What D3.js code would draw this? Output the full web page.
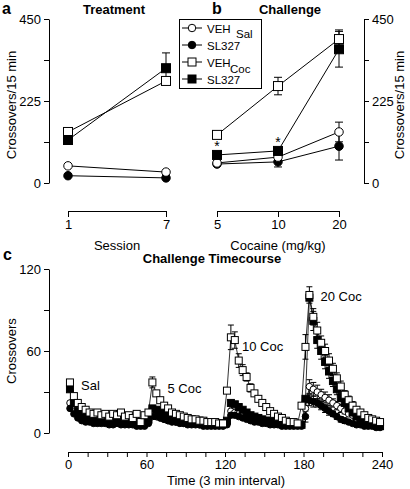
<!DOCTYPE html>
<html><head><meta charset="utf-8">
<script src="https://cdn.jsdelivr.net/npm/d3@7"></script>
<style>
body{margin:0;background:#fff}
svg{display:block}
text{font-family:"Liberation Sans",Arial,Helvetica,sans-serif;fill:#000}
</style>
</head><body>
<svg id="chart" width="410" height="489"></svg>
<script>
// ---------- DATA ----------
const sessions = ["1", "7"];
const treatVehSal = [47, 30];
const treatSlSal = [20, 14];
const treatVehCoc = [140, 280];
const treatSlCoc = [118, 315];
const treatVehSalErr = [0, 0];
const treatSlSalErr = [0, 0];
const treatVehCocErr = [0, 0];
const treatSlCocErr = [0, 42];

const doses = ["5", "10", "20"];
const chalVehSal = [55, 71, 140];
const chalSlSal = [52, 58, 101];
const chalVehCoc = [132, 266, 395];
const chalSlCoc = [77, 88, 367];
const chalVehSalErr = [0, 10, 27];
const chalSlSalErr = [0, 14, 38];
const chalVehCocErr = [0, 24, 25];
const chalSlCocErr = [0, 8, 49];
const chalStars = ["5", "10"];

const abTicks = [0, 112.5, 225, 337.5, 450];
const abTickLabels = [0, 225, 450];

// time course: 80 bins of 3 min
const tcVehCoc = [37,27,22,19,17,15,14,15,13,14,12,14,13,15,12,13,11,14,8,13,
  15,37,29,24,20,18,15,14,13,12,11,10,10,9,9,8,8,8,7,7,
  31,70,68,53,46,41,33,29,25,22,19,16,14,12,11,9,8,8,7,20,
  63,101,85,75,66,60,53,47,40,34,28,24,20,17,15,13,11,10,9,8];
const tcSlCoc = [32,22,16,13,12,11,11,10,11,10,10,9,10,9,10,9,9,8,8,8,
  10,18,17,16,15,14,13,12,12,11,10,10,9,9,8,8,8,7,7,7,
  9,22,21,19,17,15,13,12,11,10,9,9,8,8,7,7,6,6,6,6,
  25,99,82,68,60,52,45,38,32,26,22,18,15,12,10,9,8,7,6,5];
const tcVehSal = [22,17,13,11,10,9,9,8,9,8,8,8,9,8,8,7,8,8,7,7,
  8,14,12,11,10,9,9,8,8,7,7,7,7,6,6,6,6,6,6,6,
  7,16,15,14,13,12,11,10,9,9,8,8,7,7,7,6,6,6,6,6,
  18,34,32,30,28,26,24,22,20,18,16,14,13,12,11,10,9,8,8,8];
const tcSlSal = [18,14,11,9,8,8,7,7,7,7,6,6,7,6,6,6,6,5,5,5,
  7,12,12,11,10,9,8,8,7,7,6,6,6,6,5,5,5,5,5,5,
  6,13,13,12,11,10,9,8,8,7,7,6,6,6,5,5,5,5,5,5,
  12,24,23,22,20,18,16,14,12,10,9,8,7,6,6,5,5,5,4,4];
const tcVehCocErr = [0,0,0,0,0,0,0,0,0,0,0,0,0,0,0,0,0,0,0,0,
  0,4,0,0,0,0,0,0,0,0,0,0,0,0,0,0,0,0,0,0,
  0,9,6,5,4,3,3,0,0,0,0,0,0,0,0,0,0,0,0,0,
  9,6,6,6,5,5,5,4,4,4,3,3,3,0,0,0,0,0,0,0];
const tcSlCocErr = [0,0,0,0,0,0,0,0,0,0,0,0,0,0,0,0,0,0,0,0,
  0,0,0,0,0,0,0,0,0,0,0,0,0,0,0,0,0,0,0,0,
  0,0,0,0,0,0,0,0,0,0,0,0,0,0,0,0,0,0,0,0,
  0,0,7,6,6,5,5,4,4,3,3,0,0,0,0,0,0,0,0,0];
const tcVehSalErr = [0,0,0,0,0,0,0,0,0,0,0,0,0,0,0,0,0,0,0,0,
  0,0,0,0,0,0,0,0,0,0,0,0,0,0,0,0,0,0,0,0,
  0,0,0,0,0,0,0,0,0,0,0,0,0,0,0,0,0,0,0,0,
  5,5,5,5,4,4,4,3,3,3,2,0,0,0,0,0,0,0,0,0];
const tcSlSalErr = [0,0,0,0,0,0,0,0,0,0,0,0,0,0,0,0,0,0,0,0,
  0,0,0,0,0,0,0,0,0,0,0,0,0,0,0,0,0,0,0,0,
  0,0,0,0,0,0,0,0,0,0,0,0,0,0,0,0,0,0,0,0,
  4,4,4,3,3,3,3,2,2,2,2,0,0,0,0,0,0,0,0,0];
const tcTimes = d3.range(80).map(i => 1.5 + 3 * i);
const tcNotes = [
  {label: "Sal", t: 10, v: 35},
  {label: "5 Coc", t: 76, v: 33},
  {label: "10 Coc", t: 133, v: 64},
  {label: "20 Coc", t: 193, v: 100}
];

// ---------- DRAW ----------
const svg = d3.select("#chart");
const FONT = 13;

function marker(g, shape, filled, x, y, size) {
  if (shape === "sq") {
    g.append("rect").attr("x", x - size/2).attr("y", y - size/2)
      .attr("width", size).attr("height", size)
      .attr("fill", filled ? "#000" : "#fff").attr("stroke", "#000").attr("stroke-width", 1);
  } else {
    g.append("circle").attr("cx", x).attr("cy", y).attr("r", size/2)
      .attr("fill", filled ? "#000" : "#fff").attr("stroke", "#000").attr("stroke-width", 1);
  }
}
function errBar(g, x, y0, y1, cap) {
  g.append("line").attr("x1", x).attr("x2", x).attr("y1", y0).attr("y2", y1)
    .attr("stroke", "#000").attr("stroke-width", 1);
  g.append("line").attr("x1", x - cap).attr("x2", x + cap).attr("y1", y1).attr("y2", y1)
    .attr("stroke", "#000").attr("stroke-width", 1);
}
function styleAxis(sel) {
  sel.selectAll("path,line").attr("stroke", "#000").attr("stroke-width", 1);
  sel.selectAll("text").style("font-size", FONT + "px")
    .style("font-family", '"Liberation Sans",Arial,sans-serif').attr("fill", "#000");
}

// ----- panels a & b -----
const yAB = d3.scaleLinear().domain([0, 450]).range([183, 19]);
const xA = d3.scalePoint().domain(sessions).range([68, 166]);
const xB = d3.scalePoint().domain(doses).range([217, 339]);

const fmtAB = d => abTickLabels.includes(d) ? d : "";
svg.append("g").attr("transform", "translate(49,0)")
  .call(d3.axisLeft(yAB).tickValues(abTicks).tickFormat(fmtAB).tickSize(5).tickSizeOuter(0))
  .call(styleAxis);
svg.append("g").attr("transform", "translate(364,0)")
  .call(d3.axisRight(yAB).tickValues(abTicks).tickFormat(fmtAB).tickSize(5).tickSizeOuter(0))
  .call(styleAxis);
svg.append("g").attr("transform", "translate(0,211)")
  .call(d3.axisBottom(xA).tickSize(6).tickSizeOuter(0)).call(styleAxis);
svg.append("g").attr("transform", "translate(0,211)")
  .call(d3.axisBottom(xB).tickSize(6).tickSizeOuter(0)).call(styleAxis);

const seriesDefs = [
  {name: "VEH", shape: "ci", filled: false},
  {name: "SL327", shape: "ci", filled: true},
  {name: "VEH", shape: "sq", filled: false},
  {name: "SL327", shape: "sq", filled: true}
];

function drawSmall(xs, cats, vals, errs, order) {
  const g = svg.append("g");
  vals.forEach(v => {
    g.append("path").datum(cats.map((c, i) => [xs(c), yAB(v[i])]))
      .attr("d", d3.line()).attr("fill", "none").attr("stroke", "#000").attr("stroke-width", 1);
  });
  order.forEach(k => {
    vals[k].forEach((v, i) => {
      const e = errs[k][i];
      if (e > 0) {
        errBar(g, xs(cats[i]), yAB(v), yAB(v + e), 4);
        errBar(g, xs(cats[i]), yAB(v), yAB(v - e), 4);
      }
    });
  });
  order.forEach(k => {
    vals[k].forEach((v, i) => marker(g, seriesDefs[k].shape, seriesDefs[k].filled, xs(cats[i]), yAB(v), seriesDefs[k].shape === "sq" ? 9 : 8.5));
  });
}
drawSmall(xA, sessions, [treatVehSal, treatSlSal, treatVehCoc, treatSlCoc],
  [treatVehSalErr, treatSlSalErr, treatVehCocErr, treatSlCocErr], [1, 0, 2, 3]);
drawSmall(xB, doses, [chalVehSal, chalSlSal, chalVehCoc, chalSlCoc],
  [chalVehSalErr, chalSlSalErr, chalVehCocErr, chalSlCocErr], [1, 0, 2, 3]);

// stars
chalStars.forEach(d => {
  const i = doses.indexOf(d);
  svg.append("text").attr("x", xB(d)).attr("y", yAB(chalSlCoc[i]) - 4)
    .attr("text-anchor", "middle").style("font-size", "14px").text("*");
});

// labels a/b
svg.append("text").attr("x", 2).attr("y", 14).style("font-size", "16px").style("font-weight", "bold").text("a");
svg.append("text").attr("x", 212).attr("y", 14).style("font-size", "16px").style("font-weight", "bold").text("b");
svg.append("text").attr("x", 114).attr("y", 14).attr("text-anchor", "middle").style("font-size", "13px").style("font-weight", "bold").text("Treatment");
svg.append("text").attr("x", 290).attr("y", 14).attr("text-anchor", "middle").style("font-size", "13px").style("font-weight", "bold").text("Challenge");
svg.append("text").attr("transform", "translate(16,105) rotate(-90)").attr("text-anchor", "middle").style("font-size", "13px").text("Crossovers/15 min");
svg.append("text").attr("transform", "translate(404,105) rotate(-90)").attr("text-anchor", "middle").style("font-size", "13px").text("Crossovers/15 min");
svg.append("text").attr("x", 117).attr("y", 250).attr("text-anchor", "middle").style("font-size", "13px").text("Session");
svg.append("text").attr("x", 278).attr("y", 250).attr("text-anchor", "middle").style("font-size", "13px").text("Cocaine (mg/kg)");

// legend
const lg = svg.append("g");
lg.append("rect").attr("x", 179.5).attr("y", 19.5).attr("width", 82).attr("height", 69)
  .attr("fill", "#fff").attr("stroke", "#000").attr("stroke-width", 1);
seriesDefs.forEach((s, i) => {
  const yy = 28 + i * 17;
  lg.append("line").attr("x1", 182).attr("x2", 202).attr("y1", yy).attr("y2", yy).attr("stroke", "#000");
  marker(lg, s.shape, s.filled, 192, yy, s.shape === "sq" ? 8 : 7.5);
  lg.append("text").attr("x", 207).attr("y", yy + 4.5).style("font-size", "11.5px").text(s.name);
});
lg.append("text").attr("x", 236).attr("y", 38).style("font-size", "11.5px").text("Sal");
lg.append("text").attr("x", 230).attr("y", 73).style("font-size", "11.5px").text("Coc");

// ----- panel c -----
const xC = d3.scaleLinear().domain([0, 240]).range([68, 382]);
const yC = d3.scaleLinear().domain([0, 120]).range([433, 269]);
svg.append("g").attr("transform", "translate(49,0)")
  .call(d3.axisLeft(yC).tickValues([0, 30, 60, 90, 120]).tickFormat(d => d % 60 === 0 ? d : "").tickSize(5).tickSizeOuter(0))
  .call(styleAxis);
svg.append("g").attr("transform", "translate(0,452)")
  .call(d3.axisBottom(xC).tickValues(d3.range(0, 241, 15)).tickFormat(d => d % 60 === 0 ? d : "").tickSize(5).tickSizeOuter(0))
  .call(styleAxis);

svg.append("text").attr("x", 3).attr("y", 260).style("font-size", "16px").style("font-weight", "bold").text("c");
svg.append("text").attr("x", 212).attr("y", 263).attr("text-anchor", "middle").style("font-size", "13px").style("font-weight", "bold").text("Challenge Timecourse");
svg.append("text").attr("transform", "translate(16,351) rotate(-90)").attr("text-anchor", "middle").style("font-size", "13px").text("Crossovers");
svg.append("text").attr("x", 226).attr("y", 485).attr("text-anchor", "middle").style("font-size", "13px").text("Time (3 min interval)");

const tcSeries = [
  {vals: tcVehSal, errs: tcVehSalErr, def: seriesDefs[0]},
  {vals: tcSlSal, errs: tcSlSalErr, def: seriesDefs[1]},
  {vals: tcSlCoc, errs: tcSlCocErr, def: seriesDefs[3]},
  {vals: tcVehCoc, errs: tcVehCocErr, def: seriesDefs[2]}
];
const gc = svg.append("g");
tcSeries.forEach(s => {
  gc.append("path").datum(s.vals.map((v, i) => [xC(tcTimes[i]), yC(v)]))
    .attr("d", d3.line()).attr("fill", "none").attr("stroke", "#000").attr("stroke-width", 0.8);
});
tcSeries.forEach(s => {
  s.vals.forEach((v, i) => {
    const e = s.errs[i];
    if (e > 0) {
      errBar(gc, xC(tcTimes[i]), yC(v), yC(v + e), 3);
      errBar(gc, xC(tcTimes[i]), yC(v), yC(v - e), 3);
    }
  });
});
tcSeries.forEach(s => {
  s.vals.forEach((v, i) => marker(gc, s.def.shape, s.def.filled, xC(tcTimes[i]), yC(v), s.def.shape === "sq" ? 7 : 6.5));
});
tcNotes.forEach(n => {
  svg.append("text").attr("x", xC(n.t)).attr("y", yC(n.v) + 5).style("font-size", "13px").text(n.label);
});
</script>
</body></html>
